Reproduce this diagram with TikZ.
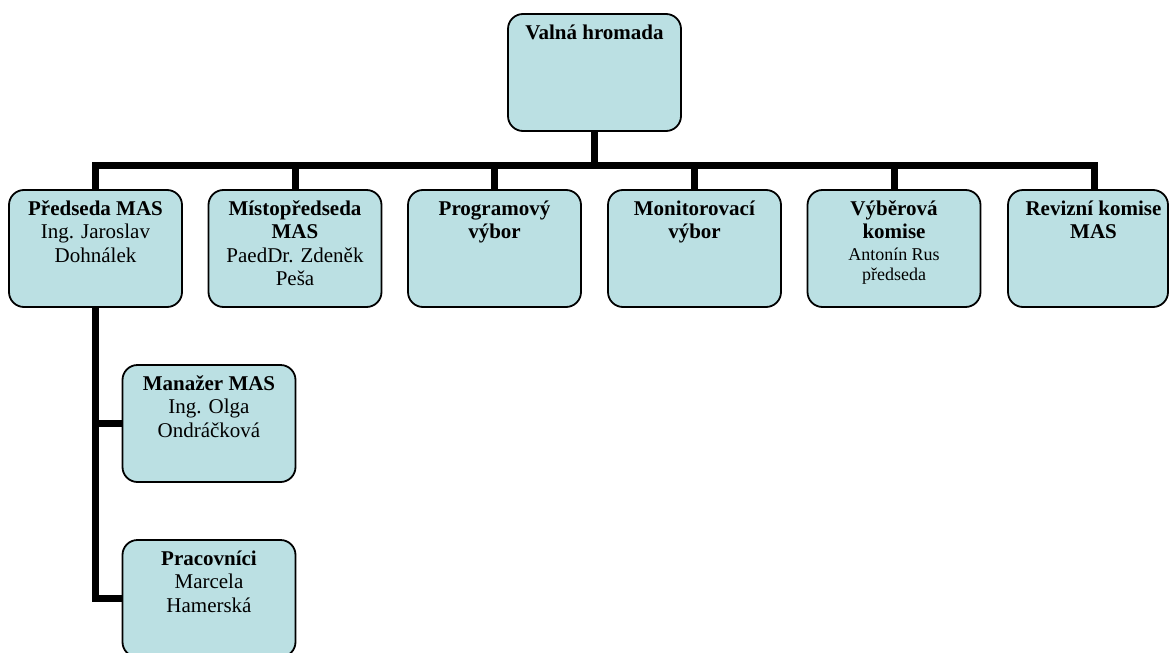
\documentclass[tikz,border=0pt]{standalone}
\usepackage{fontspec}
\setmainfont{Liberation Serif}
\usetikzlibrary{backgrounds}
\definecolor{boxfill}{RGB}{187,224,227}
\newcommand\bxtext[2]{\parbox[c][117pt][t]{#1}{\centering\rule{0pt}{25pt}#2\par}}
\newcommand\smalltxt[1]{{\fontsize{18}{18}\selectfont #1}}
\begin{document}
\begin{tikzpicture}[x=1pt,y=-1pt,
  orgbox/.style={draw=black, line width=1.8pt, fill=boxfill, rounded corners=15pt,
    inner sep=0pt, minimum width=173pt, minimum height=117pt,
    font=\fontsize{21}{23.5}\selectfont},
  conn/.style={line width=7pt, line join=miter}]
\useasboundingbox (0,0) rectangle (1170,653);
\node[orgbox] (V) at (594.5,72.5) {\bxtext{170pt}{\textbf{Valná hromada}}};
\node[orgbox] (P) at (95.5,248.5) {\bxtext{170pt}{\textbf{Předseda MAS}\\Ing. Jaroslav\\Dohnálek}};
\node[orgbox] (M) at (295,248.5) {\bxtext{170pt}{\textbf{Místopředseda}\\\textbf{MAS}\\PaedDr. Zdeněk\\Peša}};
\node[orgbox] (Pg) at (494.5,248.5) {\bxtext{170pt}{\textbf{Programový}\\\textbf{výbor}}};
\node[orgbox] (Mo) at (694.5,248.5) {\bxtext{170pt}{\textbf{Monitorovací}\\\textbf{výbor}}};
\node[orgbox] (Vy) at (894,248.5) {\bxtext{170pt}{\textbf{Výběrová}\\\textbf{komise}\\[-2pt]\smalltxt{Antonín Rus}\\[-3pt]\smalltxt{předseda}}};
\node[orgbox, minimum width=160pt] (R) at (1088,248.5) {\parbox[c][117pt][t]{157pt}{\hfill\parbox[t]{146pt}{\centering\rule{0pt}{25pt}\textbf{Revizní komise}\\\textbf{MAS}\par}}};
\node[orgbox] (Man) at (209,423.5) {\bxtext{170pt}{\textbf{Manažer MAS}\\Ing. Olga\\Ondráčková}};
\node[orgbox] (Pr) at (209,598.5) {\bxtext{170pt}{\textbf{Pracovníci}\\Marcela\\Hamerská}};
\coordinate (J) at (594.5,165);
\begin{pgfonlayer}{background}
\draw[conn] (V.south) -- (J);
\draw[conn] (P.north) |- (J) -| ([xshift=6pt]R.north);
\foreach \n in {M,Pg,Mo,Vy} {\draw[conn] (\n.north) -- (\n.north |- J);}
\draw[conn] (P.south) |- (Man.west);
\draw[conn] (P.south) |- (Pr.west);
\end{pgfonlayer}
\end{tikzpicture}
\end{document}
